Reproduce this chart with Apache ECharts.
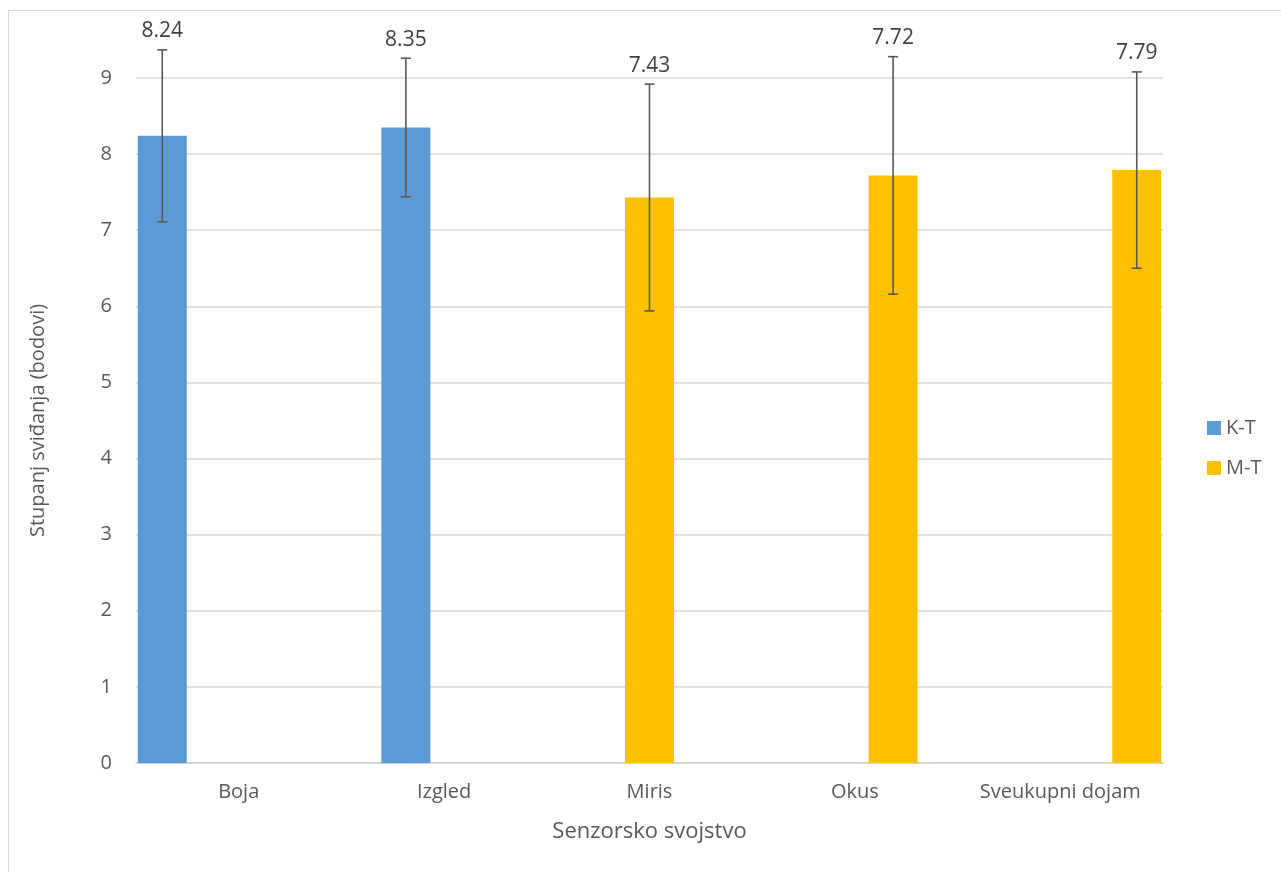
<!DOCTYPE html>
<html>
<head>
<meta charset="utf-8">
<script src="https://cdn.jsdelivr.net/npm/echarts@6/dist/echarts.min.js"></script>
<style>
  html, body { margin: 0; padding: 0; background: #fff; }
  #frame { position: absolute; left: 8px; top: 10px; width: 1290px; height: 900px; border: 1px solid #d9d9d9; box-sizing: border-box; }
  #chart { position: absolute; left: 0; top: 0; width: 1281px; height: 872px; }
</style>
</head>
<body>
<div id="frame"></div>
<div id="chart"></div>
<script>
// podaci očitani sa slike
const categories = ['Boja', 'Izgled', 'Miris', 'Okus', 'Sveukupni dojam']
const groups = ['K-T', 'K-T', 'M-T', 'M-T', 'M-T']
const means = [8.24, 8.35, 7.43, 7.72, 7.79]
const sds = [1.13, 0.91, 1.49, 1.56, 1.29]
const yTicks = [0, 1, 2, 3, 4, 5, 6, 7, 8, 9]

const colors = { 'K-T': '#5B9BD5', 'M-T': '#FFC000' }
const font = '"Open Sans", "Noto Sans", sans-serif'
const barW = 49
const barGap = -0.22
const step = barW * (1 + barGap)

const chart = echarts.init(document.getElementById('chart'))

const barSeries = categories.map((c, i) => ({
  name: groups[i],
  type: 'bar',
  barWidth: barW,
  barGap: (barGap * 100) + '%',
  itemStyle: { color: colors[groups[i]] },
  data: categories.map((_, j) => (j === i ? means[i] : null)),
  z: 2
}))

const errSeries = {
  type: 'custom',
  name: 'err',
  z: 5,
  data: means.map((m, i) => [i, m, sds[i]]),
  renderItem(params, api) {
    const i = api.value(0)
    const m = api.value(1)
    const sd = api.value(2)
    const off = (i - (categories.length - 1) / 2) * step
    const top = api.coord([i, m + sd])
    const bot = api.coord([i, m - sd])
    const x = top[0] + off
    const cap = 5
    const st = { stroke: '#595959', lineWidth: 1.6 }
    return {
      type: 'group',
      children: [
        { type: 'line', shape: { x1: x, y1: top[1], x2: x, y2: bot[1] }, style: st },
        { type: 'line', shape: { x1: x - cap, y1: top[1], x2: x + cap, y2: top[1] }, style: st },
        { type: 'line', shape: { x1: x - cap, y1: bot[1], x2: x + cap, y2: bot[1] }, style: st },
        {
          type: 'text',
          style: {
            x: x, y: top[1] - 8,
            text: m.toFixed(2),
            align: 'center', verticalAlign: 'bottom',
            fill: '#404040', font: '21px ' + font
          }
        }
      ]
    }
  }
}

const option = {
  animation: false,
  textStyle: { fontFamily: font },
  grid: { left: 136, right: 118, top: 78, bottom: 109 },
  legend: {
    data: ['K-T', 'M-T'],
    orient: 'vertical',
    left: 1202,
    top: 413,
    itemWidth: 14,
    itemHeight: 14,
    itemGap: 20,
    icon: 'rect',
    textStyle: { color: '#595959', fontSize: 20, fontFamily: font }
  },
  xAxis: {
    type: 'category',
    data: categories,
    name: 'Senzorsko svojstvo',
    nameLocation: 'middle',
    nameGap: 58,
    nameTextStyle: { color: '#595959', fontSize: 22, fontFamily: font },
    axisLine: { lineStyle: { color: '#d0d0d0', width: 1.5 } },
    axisTick: { show: false },
    axisLabel: { color: '#595959', fontSize: 20, margin: 19, interval: 0, hideOverlap: false, fontFamily: font }
  },
  yAxis: {
    type: 'value',
    min: yTicks[0],
    max: yTicks[yTicks.length - 1],
    interval: 1,
    name: 'Stupanj sviđanja (bodovi)',
    nameLocation: 'middle',
    nameGap: 88,
    nameTextStyle: { color: '#595959', fontSize: 20, fontFamily: font },
    axisLine: { show: false },
    axisTick: { show: false },
    splitLine: { lineStyle: { color: '#d9d9d9', width: 1.5 } },
    axisLabel: { color: '#595959', fontSize: 20, margin: 24, fontFamily: font }
  },
  series: [...barSeries, errSeries]
}

chart.setOption(option)
</script>
</body>
</html>
